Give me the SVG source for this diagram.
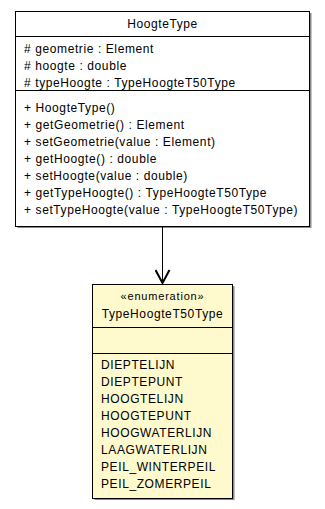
<svg xmlns="http://www.w3.org/2000/svg" width="325" height="509" viewBox="0 0 325 509">
  <style>
    .box { stroke: #000; stroke-width: 1; }
    .shadow { fill: #8a8a8a; }
    .t { font-family: "Liberation Sans", Arial, sans-serif; font-size: 12px; letter-spacing: 0.6px; fill: #000; }
    .st { font-family: "Liberation Sans", Arial, sans-serif; font-size: 11px; letter-spacing: 0.8px; fill: #000; }
    .mid { text-anchor: middle; }
    .conn { stroke: #000; stroke-width: 1; fill: none; }
  </style>
  <defs>
    <marker id="open-arrow" markerWidth="16" markerHeight="16" refX="14" refY="8" orient="auto" markerUnits="userSpaceOnUse">
      <path d="M1,1 L14,8 L1,15" fill="none" stroke="#000" stroke-width="2"/>
    </marker>
  </defs>
  <rect width="325" height="509" fill="#fff"/>

  <g id="HoogteType">
    <rect class="shadow" x="17.5" y="13" width="294" height="215"/>
    <rect class="box" x="15.5" y="11.5" width="294" height="215" fill="#fff"/>
    <line class="box" x1="15.5" y1="36.5" x2="309.5" y2="36.5"/>
    <line class="box" x1="15.5" y1="90.5" x2="309.5" y2="90.5"/>
    <text class="t mid" x="162.5" y="28">HoogteType</text>
    <text class="t" x="24" y="53"># geometrie : Element</text>
    <text class="t" x="24" y="70"># hoogte : double</text>
    <text class="t" x="24" y="87"># typeHoogte : TypeHoogteT50Type</text>
    <text class="t" x="24" y="112">+ HoogteType()</text>
    <text class="t" x="24" y="129">+ getGeometrie() : Element</text>
    <text class="t" x="24" y="146">+ setGeometrie(value : Element)</text>
    <text class="t" x="24" y="163">+ getHoogte() : double</text>
    <text class="t" x="24" y="180">+ setHoogte(value : double)</text>
    <text class="t" x="24" y="197">+ getTypeHoogte() : TypeHoogteT50Type</text>
    <text class="t" x="24" y="214">+ setTypeHoogte(value : TypeHoogteT50Type)</text>
  </g>

  <g id="TypeHoogteT50Type">
    <rect class="shadow" x="94.5" y="286" width="140" height="214"/>
    <rect class="box" x="92.5" y="284.5" width="140" height="214" fill="#fffacd"/>
    <line class="box" x1="92.5" y1="327.5" x2="232.5" y2="327.5"/>
    <line class="box" x1="92.5" y1="353.5" x2="232.5" y2="353.5"/>
    <text class="st mid" x="162.5" y="300">«enumeration»</text>
    <text class="t mid" x="162.5" y="318">TypeHoogteT50Type</text>
    <text class="t" x="101" y="369">DIEPTELIJN</text>
    <text class="t" x="101" y="386">DIEPTEPUNT</text>
    <text class="t" x="101" y="403">HOOGTELIJN</text>
    <text class="t" x="101" y="420">HOOGTEPUNT</text>
    <text class="t" x="101" y="437">HOOGWATERLIJN</text>
    <text class="t" x="101" y="454">LAAGWATERLIJN</text>
    <text class="t" x="101" y="471">PEIL_WINTERPEIL</text>
    <text class="t" x="101" y="488">PEIL_ZOMERPEIL</text>
  </g>

  <g id="connectors">
    <path class="conn" d="M162.5,227 L162.5,283" marker-end="url(#open-arrow)"/>
  </g>
</svg>
